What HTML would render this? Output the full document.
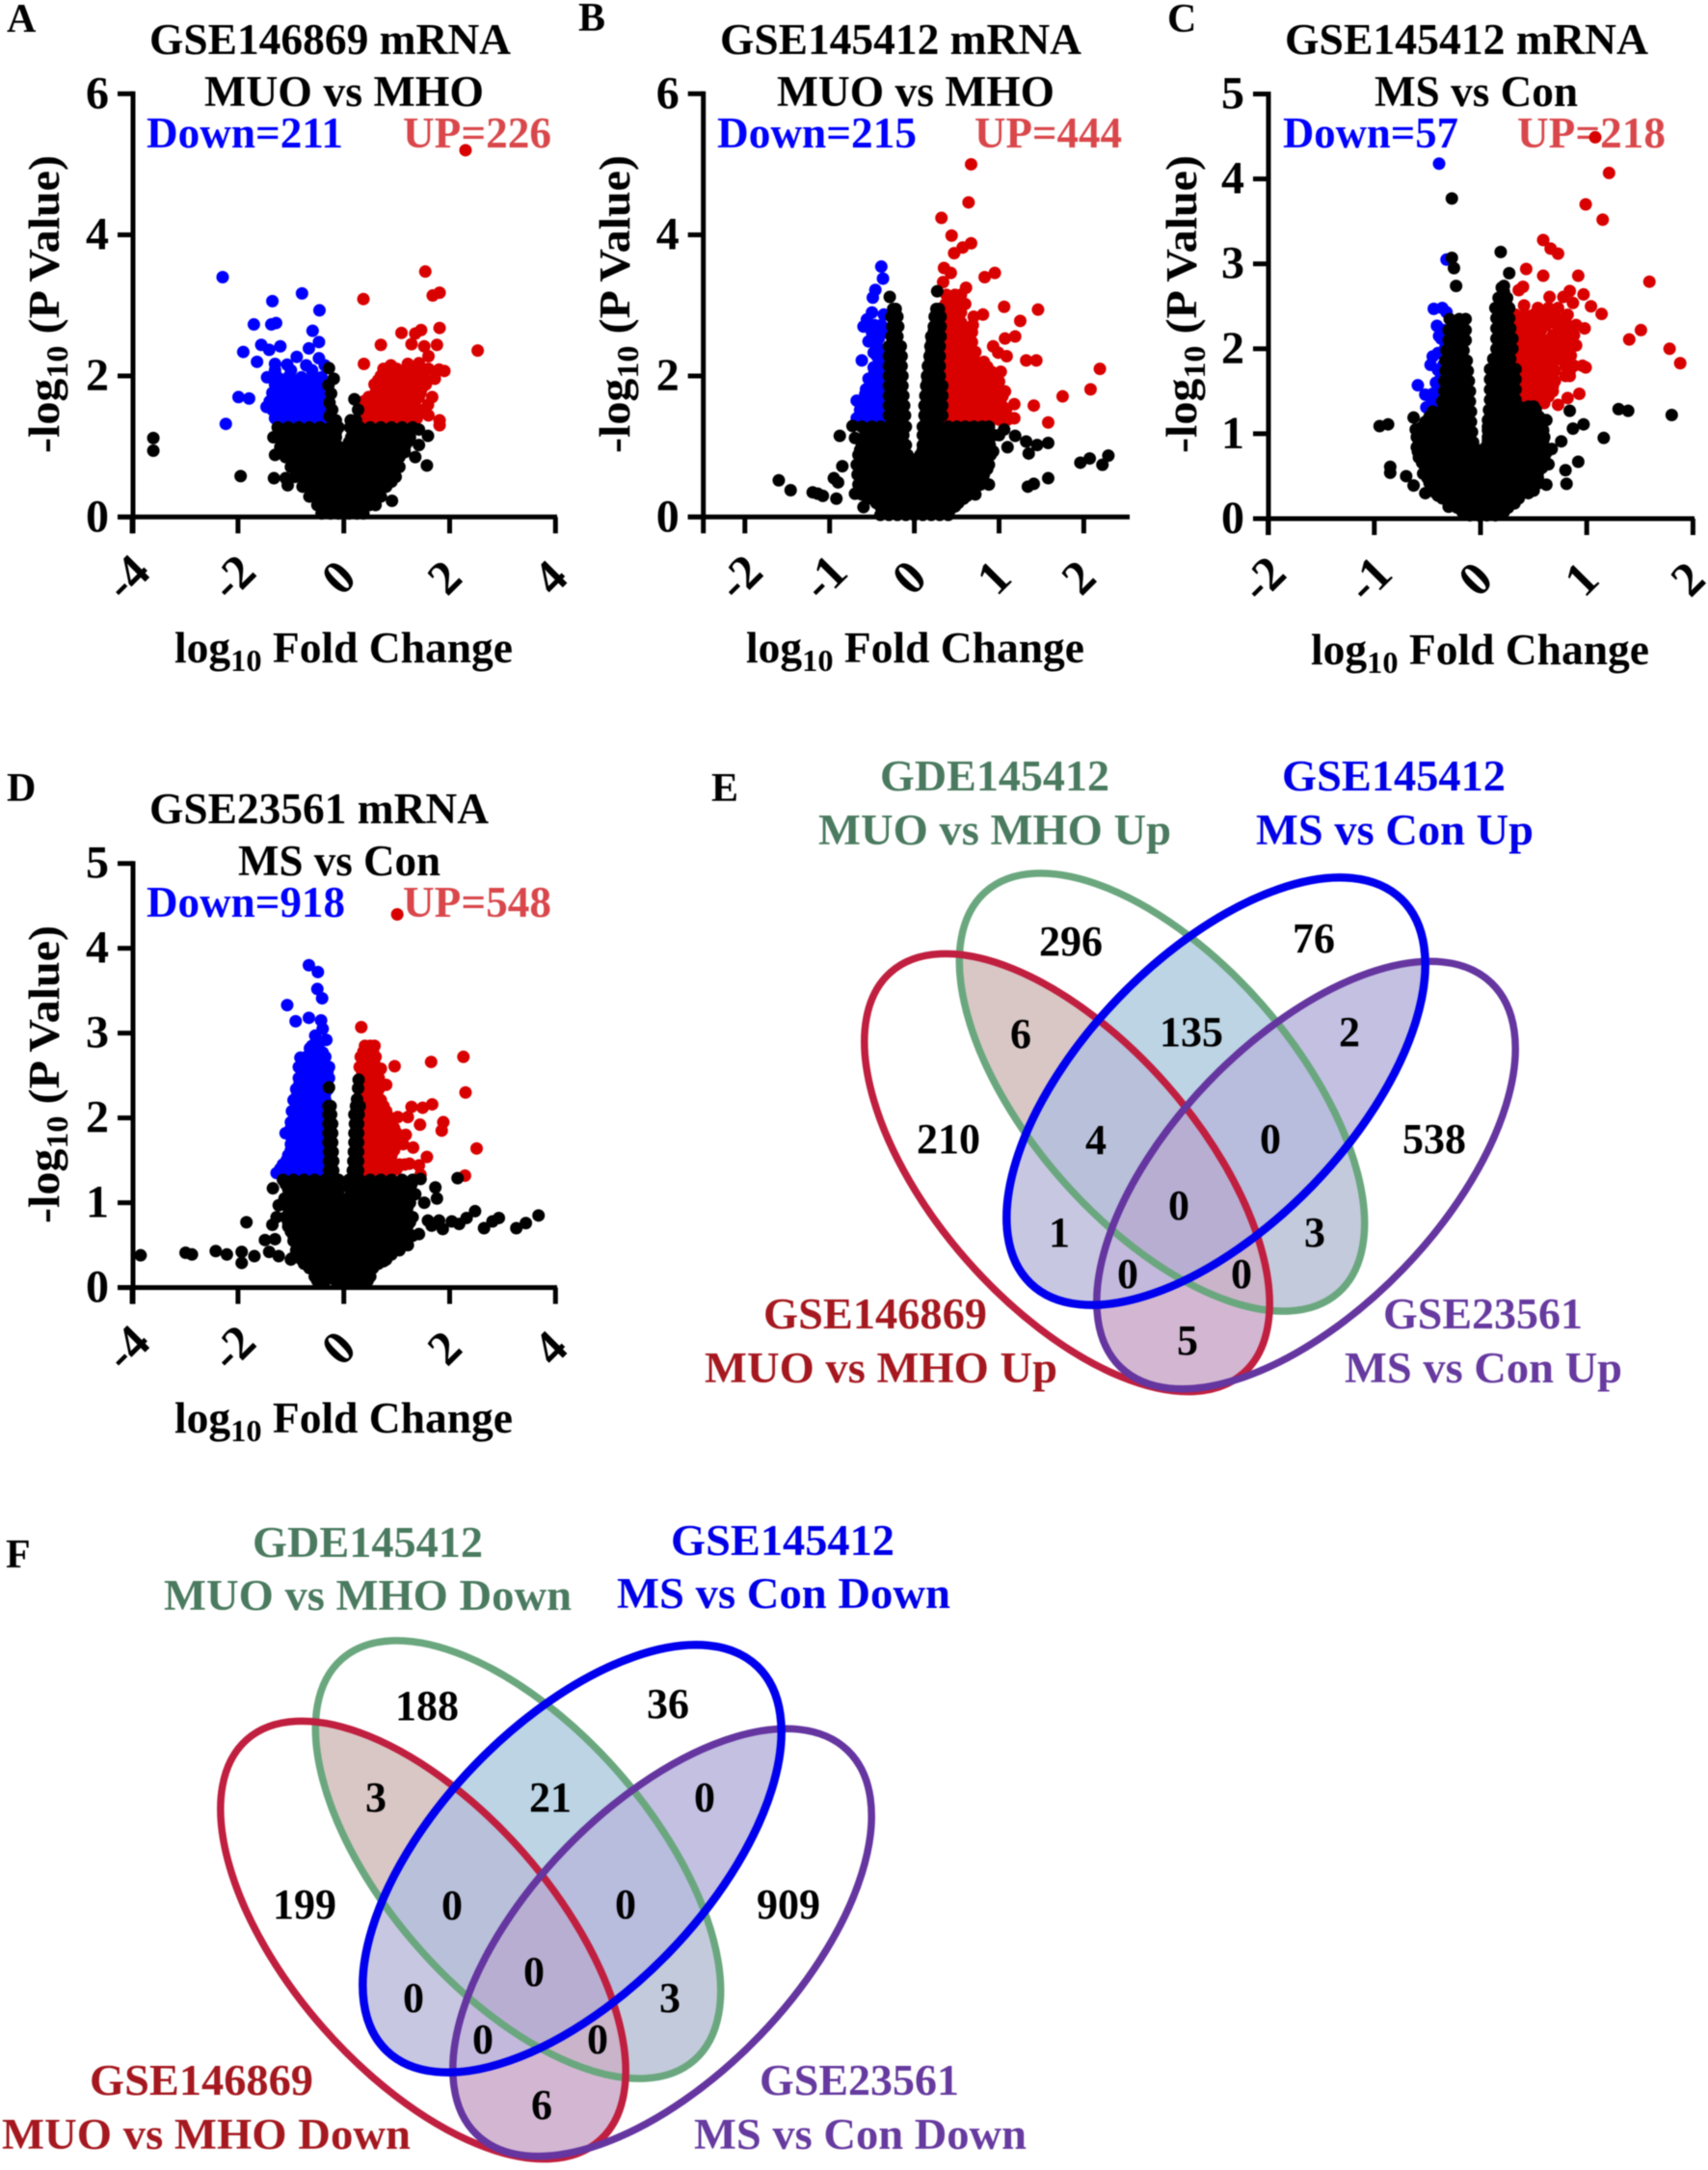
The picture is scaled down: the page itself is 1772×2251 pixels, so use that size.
<!DOCTYPE html>
<html lang="en">
<head>
<meta charset="utf-8">
<title>Volcano plots and Venn diagrams</title>
<style>
html,body{margin:0;padding:0;background:#fff;}
svg{display:block;filter:blur(0.5px);}
text{font-family:"Liberation Serif",serif;font-weight:bold;fill:#000;}
.big{font-size:45px;}
.count{font-size:44px;text-anchor:middle;}
.letter{font-size:42px;}
.down{fill:#0000ff;}
.up{fill:#d9474b;}
.vg{fill:#4a7a5f;font-size:45px;}
.vb{fill:#0000e8;font-size:45px;}
.vr{fill:#a5181f;font-size:45px;}
.vp{fill:#663a9f;font-size:45px;}
</style>
</head>
<body>
<svg id="figure" xmlns="http://www.w3.org/2000/svg" width="1772" height="2251" viewBox="0 0 1772 2251">
<rect x="0" y="0" width="1772" height="2251" fill="#fff"/>

<text class="letter" x="7" y="33">A</text>
<text class="letter" x="600" y="32">B</text>
<text class="letter" x="1211" y="33">C</text>
<text class="letter" x="7" y="831">D</text>
<text class="letter" x="738" y="831">E</text>
<text class="letter" x="6" y="1626">F</text>

<g>
<text class="big" x="155" y="56" textLength="375" lengthAdjust="spacingAndGlyphs">GSE146869 mRNA</text>
<text class="big" x="212" y="110" textLength="290" lengthAdjust="spacingAndGlyphs">MUO vs MHO</text>
<text class="big down" x="152" y="153" textLength="204" lengthAdjust="spacingAndGlyphs">Down=211</text>
<text class="big up" x="418" y="153" textLength="154" lengthAdjust="spacingAndGlyphs">UP=226</text>
<text class="big" transform="translate(61,470) rotate(-90)" textLength="309" lengthAdjust="spacingAndGlyphs">-log<tspan font-size="32" dy="9">10</tspan><tspan dy="-9"> (P Value)</tspan></text>
<text class="big" x="181" y="687" textLength="351" lengthAdjust="spacingAndGlyphs">log<tspan font-size="32" dy="9">10</tspan><tspan dy="-9"> Fold Change</tspan></text>
</g>

<g>
<text class="big" x="747" y="56" textLength="375" lengthAdjust="spacingAndGlyphs">GSE145412 mRNA</text>
<text class="big" x="806" y="110" textLength="288" lengthAdjust="spacingAndGlyphs">MUO vs MHO</text>
<text class="big down" x="744" y="153" textLength="207" lengthAdjust="spacingAndGlyphs">Down=215</text>
<text class="big up" x="1011" y="153" textLength="153" lengthAdjust="spacingAndGlyphs">UP=444</text>
<text class="big" transform="translate(653,470) rotate(-90)" textLength="309" lengthAdjust="spacingAndGlyphs">-log<tspan font-size="32" dy="9">10</tspan><tspan dy="-9"> (P Value)</tspan></text>
<text class="big" x="774" y="687" textLength="351" lengthAdjust="spacingAndGlyphs">log<tspan font-size="32" dy="9">10</tspan><tspan dy="-9"> Fold Change</tspan></text>
</g>

<g>
<text class="big" x="1333" y="56" textLength="377" lengthAdjust="spacingAndGlyphs">GSE145412 mRNA</text>
<text class="big" x="1426" y="110" textLength="211" lengthAdjust="spacingAndGlyphs">MS vs Con</text>
<text class="big down" x="1331" y="153" textLength="182" lengthAdjust="spacingAndGlyphs">Down=57</text>
<text class="big up" x="1574" y="153" textLength="154" lengthAdjust="spacingAndGlyphs">UP=218</text>
<text class="big" transform="translate(1241,470) rotate(-90)" textLength="309" lengthAdjust="spacingAndGlyphs">-log<tspan font-size="32" dy="9">10</tspan><tspan dy="-9"> (P Value)</tspan></text>
<text class="big" x="1360" y="689" textLength="351" lengthAdjust="spacingAndGlyphs">log<tspan font-size="32" dy="9">10</tspan><tspan dy="-9"> Fold Change</tspan></text>
</g>

<g>
<text class="big" x="155" y="854" textLength="352" lengthAdjust="spacingAndGlyphs">GSE23561 mRNA</text>
<text class="big" x="247" y="908" textLength="210" lengthAdjust="spacingAndGlyphs">MS vs Con</text>
<text class="big down" x="152" y="951" textLength="206" lengthAdjust="spacingAndGlyphs">Down=918</text>
<text class="big up" x="418" y="951" textLength="154" lengthAdjust="spacingAndGlyphs">UP=548</text>
<text class="big" transform="translate(61,1269) rotate(-90)" textLength="309" lengthAdjust="spacingAndGlyphs">-log<tspan font-size="32" dy="9">10</tspan><tspan dy="-9"> (P Value)</tspan></text>
<text class="big" x="181" y="1486" textLength="351" lengthAdjust="spacingAndGlyphs">log<tspan font-size="32" dy="9">10</tspan><tspan dy="-9"> Fold Change</tspan></text>
</g>

<g id="venn-e"></g>
<g id="venn-f"></g>

<g>
<text class="vg" x="913" y="820" textLength="238" lengthAdjust="spacingAndGlyphs">GDE145412</text>
<text class="vg" x="849" y="876" textLength="366" lengthAdjust="spacingAndGlyphs">MUO vs MHO Up</text>
<text class="vb" x="1330" y="820" textLength="232" lengthAdjust="spacingAndGlyphs">GSE145412</text>
<text class="vb" x="1303" y="876" textLength="288" lengthAdjust="spacingAndGlyphs">MS vs Con Up</text>
<text class="vr" x="792" y="1378" textLength="232" lengthAdjust="spacingAndGlyphs">GSE146869</text>
<text class="vr" x="731" y="1434" textLength="366" lengthAdjust="spacingAndGlyphs">MUO vs MHO Up</text>
<text class="vp" x="1435" y="1378" textLength="207" lengthAdjust="spacingAndGlyphs">GSE23561</text>
<text class="vp" x="1395" y="1434" textLength="288" lengthAdjust="spacingAndGlyphs">MS vs Con Up</text>
</g>
<g>
<text class="count" x="1111" y="991">296</text>
<text class="count" x="1363" y="988">76</text>
<text class="count" x="1059" y="1087">6</text>
<text class="count" x="1236" y="1085">135</text>
<text class="count" x="1400" y="1085">2</text>
<text class="count" x="984" y="1196">210</text>
<text class="count" x="1137" y="1197">4</text>
<text class="count" x="1318" y="1196">0</text>
<text class="count" x="1488" y="1196">538</text>
<text class="count" x="1223" y="1265">0</text>
<text class="count" x="1099" y="1293">1</text>
<text class="count" x="1364" y="1293">3</text>
<text class="count" x="1170" y="1336">0</text>
<text class="count" x="1288" y="1336">0</text>
<text class="count" x="1232" y="1405">5</text>
</g>

<g>
<text class="vg" x="262" y="1615" textLength="239" lengthAdjust="spacingAndGlyphs">GDE145412</text>
<text class="vg" x="170" y="1670" textLength="423" lengthAdjust="spacingAndGlyphs">MUO vs MHO Down</text>
<text class="vb" x="696" y="1613" textLength="232" lengthAdjust="spacingAndGlyphs">GSE145412</text>
<text class="vb" x="640" y="1668" textLength="346" lengthAdjust="spacingAndGlyphs">MS vs Con Down</text>
<text class="vr" x="93" y="2173" textLength="232" lengthAdjust="spacingAndGlyphs">GSE146869</text>
<text class="vr" x="2" y="2229" textLength="424" lengthAdjust="spacingAndGlyphs">MUO vs MHO Down</text>
<text class="vp" x="788" y="2173" textLength="207" lengthAdjust="spacingAndGlyphs">GSE23561</text>
<text class="vp" x="720" y="2229" textLength="345" lengthAdjust="spacingAndGlyphs">MS vs Con Down</text>
</g>
<g>
<text class="count" x="443" y="1784">188</text>
<text class="count" x="693" y="1782">36</text>
<text class="count" x="390" y="1879">3</text>
<text class="count" x="571" y="1879">21</text>
<text class="count" x="731" y="1879">0</text>
<text class="count" x="316" y="1990">199</text>
<text class="count" x="469" y="1991">0</text>
<text class="count" x="649" y="1990">0</text>
<text class="count" x="818" y="1990">909</text>
<text class="count" x="554" y="2060">0</text>
<text class="count" x="429" y="2087">0</text>
<text class="count" x="695" y="2087">3</text>
<text class="count" x="501" y="2130">0</text>
<text class="count" x="620" y="2130">0</text>
<text class="count" x="562" y="2198">6</text>
</g>
</svg>

<script>
// Each row is [-log10 P, log10 FC, log10 FC, ...].
const xTicksWide = [-4, -2, 0, 2, 4];
const xTicksB = [-2, -1, 0, 1, 2];
const yTicksSix = [0, 2, 4, 6];
const yTicksFive = [0, 1, 2, 3, 4, 5];

const aBlue = [[3.4,-2.29],[3.17,-.79],[3.06,-1.35],[2.93,-.46],[2.73,-1.7,-1.37],[2.75,-1.28],[2.64,-.59],[2.48,-.47],[2.44,-1.56],[2.37,-1.41],[2.42,-1.2],[2.39,-.66],[2.34,-1.9],[2.2,-1.64],[2.27,-.89],[2.25,-.47],[2.17,-1.3],[2.16,-1.07],[2.15,-.71,-.36],[1.7,-1.99],[1.68,-1.79],[1.32,-2.23],[1.56,-1.46],
[2.08,-1.3,-1.0,-.6],[1.98,-1.45,-1.25,-1.05,-.8,-.6,-.42],[1.88,-1.3,-1.1,-.9,-.7,-.5],[1.76,-1.35,-1.15,-.95,-.75,-.55,-.4],[1.64,-1.4,-1.2,-1,-.8,-.6,-.42],[1.52,-1.35,-1.15,-.95,-.75,-.55,-.4],[1.4,-1.3,-1.1,-.9,-.7,-.5,-.38],
[1.46,-1.22,-1,-.8,-.6,-.42],[1.58,-1.25,-1.05,-.85,-.65,-.45],[1.7,-1.25,-1.05,-.85,-.65,-.45],[1.82,-1.22,-1,-.8,-.6,-.42],[1.94,-1.2,-.95,-.7,-.5]];
const aRed = [[5.2,2.3],[3.48,1.54],[3.18,1.81],[3.14,1.68],[3.09,.37],[2.68,1.81],[2.65,1.46],[2.6,1.35],[2.61,1.09],[2.44,.7,1.76],[2.45,1.28],[2.42,1.52],[2.36,2.53],[2.28,1.6],[2.17,.38,1.21],[2.15,.89],[2.18,1.42],[2.09,1.8],[2.07,1.9],[1.96,1.72],[1.7,1.67],[1.59,1.59],[1.44,1.6],[1.37,1.81],[1.3,1.81],
[2.1,.75,.85,1,1.2,1.4,1.6],[2,.7,.95,1.1,1.3,1.5],[1.88,.58,.78,.98,1.18,1.38,1.55],[1.76,.6,.8,1,1.2,1.45],[1.64,.38,.55,.75,.95,1.15,1.35],[1.52,.42,.62,.82,1.02,1.22,1.42],[1.4,.4,.6,.8,1,1.2,1.38],
[1.46,.5,.7,.9,1.1,1.3],[1.58,.52,.72,.92,1.12,1.32],[1.7,.47,.65,.85,1.05,1.25,1.42],[1.82,.7,.9,1.1,1.3,1.47],[1.94,.65,.85,1.05,1.2,1.42],[2.05,.82,1.05,1.25,1.45]];
const aBlack = [[1.12,-3.6],[.94,-3.6],[.58,-1.95],[.88,-1.3],[.55,-1.32,-1.1],[.45,-1.06],[.23,.91],[.73,1.57],[.85,1.35],[1.24,1.42],[1.15,1.59],[1.02,1.42],
[2.11,-.28],[1.96,-.19],[1.87,-.29],[1.75,-.24],[1.62,-.27],[1.52,-.22,.27],[1.43,-.27],[1.37,-.15,.13,.23],[1.67,.2],
[1.27,-1.25,-1.05,-.85,-.65,-.45,-.25,-.1,.12,.3,.5,.7,.9,1.1,1.3],
[1.13,-1.33,-1.15,-.95,-.75,-.55,-.35,-.15,.14,.25,.4,.6,.8,1,1.2,1.25],
[.99,-1.2,-1.05,-.85,-.65,-.45,-.25,-.08,.06,.2,.35,.55,.75,.95,1.15],
[.85,-1.1,-.95,-.75,-.55,-.35,-.15,.05,.25,.45,.65,.85,1.05],
[.71,-1.0,-.85,-.65,-.45,-.25,-.05,.15,.35,.55,.75,.95,1.05],
[.57,-.92,-.75,-.55,-.35,-.15,.05,.25,.45,.65,.85,.98],
[.43,-.78,-.6,-.4,-.2,0,.2,.4,.6,.8],
[.29,-.65,-.47,-.27,-.07,.13,.33,.53,.7],
[.17,-.5,-.32,-.12,.08,.28,.48,.6],
[.08,-.35,-.18,0,.18,.35],
[1.2,-1.2,-.95,-.75,-.55,-.35,-.15,.2,.4,.6,.8,1,1.2],
[1.06,-1.15,-.95,-.75,-.55,-.35,-.18,.1,.3,.5,.7,.9,1.1,1.2],
[.92,-1.05,-.85,-.65,-.45,-.25,-.05,.15,.35,.55,.75,.95,1.15],
[.78,-.95,-.75,-.55,-.35,-.15,.05,.25,.45,.65,.85,1.0],
[.64,-.85,-.65,-.45,-.25,-.05,.15,.35,.55,.75,.95],
[.5,-.7,-.5,-.3,-.1,.1,.3,.5,.7,.9],
[.36,-.55,-.35,-.15,.05,.25,.45,.65],
[.23,-.4,-.2,0,.2,.4,.55],
[.05,-.42,-.25,-.1,.1,.25,.37]];

const bBlue = [[3.55,-.39],[3.38,-.37],[3.22,-.46],[3.11,-.49],[2.9,-.5],[2.87,-.36],[2.8,-.56],[2.7,-.6],[2.72,-.47,-.39],[2.56,-.49],[2.49,-.54],[2.53,-.42],[2.47,-.47],[2.37,-.38],[2.22,-.62],[2.28,-.44],[2.18,-.38],[1.96,-.54],[2.06,-.47],[2,-.38],[1.87,-.47],[1.81,-.57],[1.84,-.38],[1.65,-.68,-.6],[1.68,-.51,-.4],[1.52,-.64,-.55,-.47,-.38],[1.4,-.68,-.6,-.51,-.42,-.37],
[1.46,-.64,-.55,-.46,-.38],[1.58,-.6,-.5,-.42,-.36],[1.74,-.58,-.5,-.42,-.36],[1.9,-.52,-.44,-.36],[2.12,-.48,-.4,-.34],[2.33,-.48,-.4,-.34],[2.62,-.5,-.42,-.36]];
const bRed = [[5,.67],[4.46,.64],[4.24,.32],[3.99,.44],[3.88,.67],[3.82,.57],[3.74,.47],[3.53,.35],[3.46,.43,.95],[3.4,.83],[3.33,.34],[3.25,.61],[2.98,1.06],[2.94,1.46],[2.87,.81],[2.78,1.25],[2.84,.7],[2.72,.69],[2.56,1.19],[2.53,1.07],[2.42,.93],[2.33,.99],[2.28,1.09],[2.22,1.32,1.44],[2.1,2.19],[1.81,2.08],[1.71,1.75],[1.58,1.41],[1.6,1.18],[1.34,1.58],[1.4,1.18],
[3.15,.38,.48,.55],[3.02,.37,.47,.57,.6],[2.9,.37,.46,.55],[2.76,.37,.46,.55],[2.62,.38,.47,.56,.68],[2.48,.37,.46,.55,.68],[2.34,.37,.46,.55,.64,.72],[2.2,.37,.46,.55,.64,.73,.82],[2.06,.37,.46,.55,.64,.73,.82,.91,1.02],[1.92,.37,.46,.55,.64,.73,.82,.91,1],[1.78,.37,.46,.55,.64,.73,.82,.91,1,1.07],[1.64,.37,.46,.55,.64,.73,.82,.91,1],[1.5,.37,.46,.55,.64,.73,.82,.91,1,1.08],[1.38,.37,.46,.55,.64,.73,.82,.91,1,1.1],
[3.08,.42,.52],[2.96,.42,.52],[2.83,.42,.52],[2.69,.42,.52,.6],[2.55,.42,.52,.62],[2.41,.42,.52,.62],[2.27,.42,.5,.6,.68],[2.13,.42,.5,.6,.68,.78,.86],[1.99,.42,.5,.6,.68,.78,.86,.96],[1.85,.42,.5,.6,.68,.78,.86,.96],[1.71,.42,.5,.6,.68,.78,.86,.96,1.04],[1.57,.42,.5,.6,.68,.78,.86,.96,1.04],[1.44,.42,.5,.6,.68,.78,.86,.96,1.05]];
const bBlack = [[.52,-1.6],[.38,-1.46],[.35,-1.2],[.33,-1.14],[.3,-1.08],[.55,-.95],[.49,-.9],[.26,-.92],[.72,-.85],[1.15,-.88],[1.29,-.73],[1.12,-.7],[.14,-.6],[.33,-.7],
[1.24,1.06],[1.15,1.19],[1.07,1.32],[1.02,1.45],[1.05,1.58],[.9,1.35],[.99,1.1],[.93,.93],[.68,.86],[.46,.88],[.43,1.34],[.47,1.41],[.55,1.58],[.77,1.96],[.83,2.07],[.74,2.22],[.87,2.29],[.3,.62],[.36,.71],[3.2,.27],
[3.12,-.29],[2.95,-.25,-.22,.26,.29],[2.84,-.27,-.2,.24,.29,.31],[2.7,-.26,-.21,-.19,.23,.27,.31],[2.56,-.27,-.2,.2,.26,.31],[2.42,-.3,-.22,-.16,.19,.25,.3],[2.28,-.3,-.22,-.15,.18,.24,.3],[2.14,-.3,-.2,-.15,.16,.22,.3],[2,-.3,-.2,-.14,.15,.22,.3],[1.86,-.3,-.2,-.14,.14,.2,.28,.33],[1.72,-.3,-.2,-.13,.13,.2,.28,.33],[1.58,-.3,-.2,-.12,.12,.2,.28,.33],[1.44,-.3,-.2,-.11,.12,.2,.28,.33],
[1.37,-.25,-.15,.14,.24],[1.51,-.25,-.15,.14,.23],[1.65,-.25,-.16,.15,.24],[1.79,-.25,-.17,.16,.24],[1.93,-.25,-.17,.16,.24],[2.07,-.25,-.18,.18,.25],[2.21,-.25,-.18,.19,.26],[2.35,-.25,.2,.27],[2.49,-.24,.21,.27],[2.63,-.24,.23,.27],
[1.28,-.62,-.5,-.4,-.3,-.2,-.1,.1,.2,.3,.4,.5,.6,.7,.8,.88],
[1.16,-.58,-.46,-.35,-.24,-.13,.1,.17,.28,.39,.5,.61,.72,.83,.94,1],
[1.02,-.62,-.5,-.4,-.3,-.2,-.1,.1,.23,.34,.45,.56,.67,.78,.89],
[.88,-.66,-.55,-.45,-.35,-.25,-.15,-.08,.07,.17,.28,.39,.5,.61,.72,.83,.9],
[.74,-.68,-.57,-.47,-.37,-.27,-.17,-.07,.03,.14,.25,.36,.47,.58,.69,.8,.88],
[.6,-.67,-.56,-.46,-.36,-.26,-.16,-.06,.05,.16,.27,.38,.49,.6,.71,.82],
[.46,-.66,-.55,-.45,-.35,-.25,-.15,-.05,.03,.14,.25,.36,.47,.58,.69,.78],
[.32,-.62,-.5,-.4,-.3,-.2,-.1,0,.1,.2,.3,.4,.5,.6,.72],
[.2,-.45,-.35,-.25,-.15,-.05,.05,.15,.25,.35,.45,.52],
[.1,-.38,-.28,-.18,-.08,.02,.12,.22,.32,.42],
[.03,-.4,-.3,-.2,-.1,0,.1,.2,.3,.4],
[1.23,-.55,-.45,-.35,-.25,-.15,.14,.25,.35,.45,.55,.65,.75,.85],
[1.09,-.6,-.45,-.35,-.25,-.15,.14,.28,.39,.5,.61,.72,.83],
[.95,-.64,-.5,-.4,-.3,-.2,-.12,.1,.22,.34,.45,.56,.67,.78,.88],
[.81,-.62,-.5,-.4,-.3,-.2,-.1,0,.1,.22,.33,.44,.55,.66,.77,.85],
[.67,-.62,-.5,-.4,-.3,-.2,-.1,0,.1,.22,.33,.44,.55,.66,.77],
[.53,-.6,-.5,-.4,-.3,-.2,-.1,0,.1,.2,.32,.44,.55,.66,.74],
[.39,-.58,-.5,-.4,-.3,-.2,-.1,0,.1,.2,.3,.4,.5,.6,.7],
[.26,-.55,-.4,-.3,-.2,-.1,0,.1,.2,.3,.4,.5,.58],
[.15,-.4,-.3,-.2,-.1,0,.1,.2,.3,.4,.48]];

const cBlue = [[4.18,-.39],[3.05,-.32],[2.47,-.44],[2.48,-.36],[2.43,-.32],[2.27,-.41],[2.22,-.35],[2.12,-.37],[2.02,-.33],[1.91,-.45],[1.81,-.47,-.35],[1.68,-.37],[1.57,-.59,-.39],[1.46,-.52],[1.47,-.45,-.39],[1.31,-.51],[1.34,-.44],[1.39,-.39],
[2.15,-.39,-.33],[1.95,-.4,-.34],[1.75,-.4,-.34],[1.6,-.42,-.36],[1.4,-.46,-.38,-.34],[1.3,-.44,-.38,-.34]];
const cRed = [[4.49,1.08],[4.07,1.21],[3.7,.99],[3.52,1.15],[3.28,.59],[3.18,.66],[3.12,.73],[2.94,.43],[2.86,.59,.92],[2.79,1.59],[2.73,.4],[2.69,.36],[2.68,.84],[2.64,.97],[2.61,.65,.78],[2.54,.87],[2.51,.41],[2.48,.54,.64,.73],[2.5,1.04],[2.41,1.14],[2.22,1.51],[2.11,1.4],[2,1.78],[1.83,1.88],[2.24,.98],[1.78,.99],[1.47,.93],[1.34,.73],[1.42,.82],
[2.4,.33,.42,.5,.6,.7,.82],[2.28,.33,.42,.52,.62,.72,.82,.9],[2.16,.35,.44,.53,.68,.78,.88],[2.04,.36,.45,.54,.62,.74,.84,.9],[1.92,.36,.45,.55,.65,.75,.85],[1.8,.36,.46,.56,.66,.8,.88,.96],[1.68,.36,.46,.56,.66,.8,.84],[1.56,.36,.46,.56,.66,.68],[1.44,.36,.46,.56,.64],[1.36,.36,.45,.55,.6],
[2.34,.38,.47,.56,.66,.76],[2.22,.38,.47,.57,.75,.85],[2.1,.4,.49,.6,.72,.82],[1.98,.4,.5,.58,.68,.78],[1.86,.4,.5,.6,.7,.8],[1.74,.4,.5,.6,.7,.84],[1.62,.4,.5,.6,.7],[1.5,.4,.5,.6,.68],[1.4,.4,.5,.6]];
const cBlack = [[3.77,-.27],[3.07,-.27],[2.95,-.25],[2.74,-.23,.22],[3.14,.19],[2.89,.27],[2.67,.22],[1.09,-.95],[1.11,-.87],[.61,-.85],[.54,-.85],[.5,-.7],[.39,-.63],[.53,-.54],[.3,-.52],[1.19,-.63],[1.05,-.61],[.79,-.59],[.14,-.3],[.27,-.4],
[1.29,1.3],[1.27,1.39,.84],[1.22,1.8],[.95,1.16],[1.11,.97],[1.06,.87],[.67,.92],[.41,.81],[.57,.8],[.91,.76],[.82,.67],[1.16,.62],[.64,.64],[.33,.5],[.4,.62],
[2.35,-.29,-.2,-.14],[2.22,-.3,-.22,-.14],[2.1,-.3,-.22,-.14],[1.98,-.32,-.24,-.16],[1.86,-.33,-.25,-.17,-.13],[1.74,-.33,-.25,-.17,-.12],[1.62,-.34,-.26,-.18,-.11],[1.5,-.34,-.26,-.18,-.1],[1.38,-.36,-.28,-.2,-.1],[1.26,-.45,-.37,-.29,-.21,-.13,-.09],[1.14,-.52,-.44,-.36,-.28,-.2,-.12,-.09],[1.02,-.58,-.5,-.42,-.34,-.26,-.18,-.1,-.08],[.9,-.58,-.5,-.42,-.34,-.26,-.18,-.1,-.07],
[2.72,.2],[2.6,.17,.25],[2.48,.14,.22,.27],[2.36,.15,.21,.27],[2.24,.15,.21,.28],[2.12,.15,.23,.3],[2,.15,.23,.3],[1.88,.12,.2,.28],[1.76,.09,.13,.21,.29,.33],[1.64,.09,.13,.21,.29,.33],[1.52,.09,.13,.21,.29,.33],[1.4,.09,.13,.21,.29,.33],[1.28,.08,.12,.2,.28,.36,.44,.52],[1.16,.07,.11,.19,.27,.35,.43,.51,.58],[1.04,.07,.11,.19,.27,.35,.43,.51,.59],[.92,.07,.11,.19,.27,.35,.43,.51,.59],
[.78,-.56,-.48,-.4,-.32,-.24,-.16,-.08,-.01,.07,.15,.23,.31,.39,.47,.55,.62],
[.66,-.55,-.47,-.39,-.31,-.23,-.15,-.07,.01,.09,.17,.25,.33,.41,.49,.57,.6],
[.54,-.5,-.42,-.34,-.26,-.18,-.1,-.02,.06,.14,.22,.3,.38,.46,.54],
[.42,-.48,-.4,-.32,-.24,-.16,-.08,0,.08,.16,.24,.32,.4,.48,.55],
[.3,-.42,-.34,-.26,-.18,-.1,-.02,.06,.14,.22,.3,.38,.45],
[.18,-.3,-.22,-.14,-.06,.02,.1,.18,.26,.32],
[.08,-.17,-.09,-.01,.07,.15,.22],
[1.32,-.3,-.2,-.12,.12,.2,.28,.36,.45,.5],
[1.2,-.48,-.4,-.32,-.24,-.16,.09,.16,.24,.32,.4,.48,.55],
[1.08,-.55,-.47,-.38,-.3,-.22,-.14,.07,.15,.23,.31,.39,.47,.55],
[.96,-.6,-.52,-.44,-.36,-.28,-.2,-.14,.07,.15,.23,.31,.39,.47,.55,.6],
[.84,-.6,-.52,-.44,-.36,-.28,-.2,-.12,-.06,.05,.15,.23,.31,.39,.47,.55,.6],
[.72,-.58,-.5,-.42,-.34,-.26,-.18,-.1,-.02,.06,.14,.22,.3,.38,.46,.54,.6],
[.6,-.52,-.44,-.36,-.28,-.2,-.12,-.04,.04,.12,.2,.28,.36,.44,.52,.58],
[.48,-.5,-.42,-.34,-.26,-.18,-.1,-.02,.06,.14,.22,.3,.38,.46,.54],
[.36,-.44,-.36,-.28,-.2,-.12,-.04,.04,.12,.2,.28,.36,.44,.5],
[.24,-.36,-.28,-.2,-.12,-.04,.04,.12,.2,.28,.36],
[.13,-.22,-.14,-.06,.02,.1,.18,.26],
[.04,-.1,-.02,.06,.14],
[1.44,-.3,-.22,-.14,.13,.2,.27],[1.56,-.3,-.22,-.14,.13,.2,.27],[1.68,-.3,-.22,-.15,.14,.2,.27],[1.8,-.3,-.22,-.15,.14,.2,.27],[1.92,-.28,-.2,.17,.25],[2.04,-.28,-.2,.19,.26],[2.16,-.27,-.19,.19,.25],[2.28,-.26,-.18,.19,.25],[2.42,.18,.24],[2.54,.2,.24]];

const dBlue = [[3.8,-.66],[3.72,-.49],[3.52,-.5],[3.41,-.41],[3.33,-1.07],[3.18,-.66],[3.14,-.91],[3.15,-.43],[3.05,-.4],[2.97,-.54],[2.92,-.33],[2.82,-.64],[2.77,-.4],[2.71,-.82],
[2.6,-.85,-.72,-.6,-.48,-.35,-.28],[2.47,-.85,-.72,-.6,-.48,-.35,-.28],[2.34,-.9,-.78,-.65,-.52,-.4,-.3],[2.21,-.95,-.82,-.7,-.57,-.45,-.35],[2.08,-.98,-.85,-.72,-.6,-.45,-.37],[1.95,-1,-.88,-.75,-.62,-.5,-.38],[1.82,-1.1,-.95,-.82,-.7,-.57,-.45,-.38],[1.69,-1,-.88,-.75,-.62,-.5,-.38],[1.56,-1.05,-.92,-.8,-.67,-.54,-.4],[1.45,-1.15,-1,-.87,-.75,-.6,-.48,-.38],[1.35,-1.27,-1.12,-.98,-.85,-.72,-.58,-.45,-.38],
[2.54,-.78,-.66,-.54,-.42,-.31],[2.4,-.84,-.72,-.58,-.46,-.34],[2.27,-.88,-.75,-.6,-.48,-.36],[2.14,-.9,-.78,-.66,-.52,-.4],[2.01,-.93,-.82,-.68,-.56,-.42],[1.88,-1,-.88,-.76,-.62,-.5,-.4],[1.75,-.98,-.85,-.72,-.58,-.44],[1.62,-1,-.88,-.74,-.6,-.46],[1.5,-1.08,-.94,-.8,-.66,-.52,-.4],[1.4,-1.2,-1.05,-.92,-.78,-.64,-.5],[2.72,-.7,-.55,-.42,-.35],[2.85,-.6,-.48]];
const dRed = [[4.4,1.01],[3.07,.33],[2.66,1.65],[2.72,2.26],[2.3,2.3],[2.61,.96],[2.58,.7],[2.39,.8],[2.13,1.28],[2.12,1.49],[2.16,1.67],[1.95,1.88],[1.85,1.85],[1.92,1.44],[1.64,2.51],[1.32,2.29],[1.54,1.57],[2.01,1.02,1.21],[1.8,1.17],[1.65,1.31],[1.44,1.42],[1.33,1.45],[1.46,1.24],
[2.85,.4,.5,.58],[2.72,.32,.42,.52,.6],[2.6,.3,.4,.5,.6],[2.47,.36,.46,.56,.66],[2.34,.36,.46,.56,.66],[2.21,.4,.5,.6,.7],[2.08,.4,.5,.6,.7,.8],[1.95,.4,.5,.6,.7,.8,.9],[1.82,.4,.5,.6,.7,.8,.9,1],[1.69,.4,.5,.6,.7,.8,.9,1.02,1.12],[1.56,.4,.5,.6,.7,.8,.9],[1.45,.4,.5,.6,.7,.8,.95,1.05,1.15],[1.36,.4,.5,.6,.7,.8,.9],
[2.78,.37,.47,.55],[2.66,.37,.47,.57],[2.53,.35,.45,.55],[2.4,.41,.51,.61],[2.27,.43,.53,.63],[2.14,.45,.55,.65,.75],[2.01,.45,.55,.65,.75,.85],[1.88,.45,.55,.65,.75,.85,.95],[1.75,.45,.55,.65,.75,.85,.95,1.05],[1.62,.45,.55,.65,.75,.85,.95],[1.5,.45,.55,.65,.75,.85],[1.4,.45,.55,.65,.75,.85,1]];
const dBlack = [[.38,-3.84],[.41,-2.99],[.39,-2.87,-2.21],[.43,-2.42],[.29,-1.93],[.42,-1.93,-1.41],[.37,-1.69,-1.23],[.77,-1.84],[.56,-1.49],[.74,-1.35],[1.17,-1.34],[.97,-1.23],[.83,-1.27],[.57,-1.3],[.34,-.99],[.11,-.49],
[1.29,2.15],[1.18,1.73],[1,1.52],[1.05,1.76],[1.28,1.45],[1.1,1.35],[.9,2.48],[.82,2.32,2.93],[.75,2.18],[.78,2.04,2.81],[.69,1.87],[.79,1.8,1.59],[.73,1.66],[.63,1.42],[.7,2.65,3.26],[.76,3.44],[.85,3.68],[.5,1.21],[.31,.75],[.13,.3],
[2.36,-.28],[2.14,-.29,-.25,.23,.3],[2.04,-.29,-.24,.2,.28],[1.93,-.29,-.22,.21,.27],[1.82,-.29,-.22,.2,.27],[1.71,-.29,-.22,.2,.27],[1.6,-.28,-.21,.19,.27],[1.49,-.28,-.2,.18,.27],[1.38,-.28,-.2,.17,.27],[2.22,.25],[2.35,.27],[2.45,.28],
[1.27,-1.15,-.95,-.75,-.55,-.35,-.2,-.1,.1,.3,.5,.7,.9,1.1,1.3],
[1.16,-1.05,-.85,-.65,-.45,-.27,-.1,.12,.2,.4,.6,.8,1,1.2],
[1.05,-1.12,-.95,-.75,-.55,-.35,-.17,-.09,.08,.3,.5,.7,.9,1.1,1.25],
[.94,-1.05,-.85,-.65,-.45,-.25,-.09,.08,.2,.4,.6,.8,1,1.2],
[.83,-1.1,-.95,-.75,-.55,-.35,-.15,-.06,.06,.3,.5,.7,.9,1.1,1.3],
[.72,-1.05,-.85,-.65,-.45,-.25,-.05,.1,.2,.4,.6,.8,1,1.2],
[.61,-.95,-.75,-.55,-.35,-.15,.05,.3,.5,.7,.9,1.1,1.3],
[.5,-.85,-.65,-.45,-.25,-.05,.15,.35,.55,.75,.95,1.15],
[.39,-.9,-.7,-.5,-.3,-.1,.1,.3,.5,.7,.9],
[.28,-.75,-.55,-.35,-.15,.05,.25,.45,.65],
[.18,-.55,-.35,-.15,.05,.25,.42],
[.08,-.5,-.35,-.15,0,.15,.3,.45],
[1.22,-1.1,-.9,-.7,-.5,-.3,-.15,.1,.3,.5,.7,.9,1.1,1.28],
[1.1,-1.0,-.8,-.6,-.4,-.22,-.1,.15,.35,.55,.75,.95,1.15],
[1.0,-1.1,-.9,-.7,-.5,-.3,-.12,.1,.25,.45,.65,.85,1.05,1.25],
[.88,-1.0,-.8,-.6,-.4,-.2,-.1,.1,.35,.55,.75,.95,1.15],
[.77,-1.05,-.9,-.7,-.5,-.3,-.1,.08,.25,.45,.65,.85,1.05,1.25],
[.66,-1.0,-.8,-.6,-.4,-.2,0,.15,.35,.55,.75,.95,1.15],
[.55,-.95,-.75,-.55,-.35,-.15,.05,.25,.45,.65,.85,1.05],
[.44,-.9,-.7,-.5,-.3,-.1,.1,.3,.5,.7,.9,1.05],
[.33,-1,-.8,-.6,-.4,-.2,0,.2,.4,.6,.8],
[.23,-.65,-.45,-.25,-.05,.15,.35,.55],
[.13,-.55,-.4,-.2,0,.2,.38,.5]];

const SVGNS = 'http://www.w3.org/2000/svg';
const figure = document.getElementById('figure');

function make(tag, attrs, parent) {
  const el = document.createElementNS(SVGNS, tag);
  for (const k in attrs) el.setAttribute(k, attrs[k]);
  parent.appendChild(el);
  return el;
}

function drawRows(group, rows, color, name, xScale, yScale) {
  rows.forEach(function (row) {
    row.slice(1).forEach(function (v) {
      const dot = make('circle', {cx: xScale(v), cy: yScale(row[0]), r: 6.5, fill: color}, group);
      
      
    });
  });
}

function drawVolcano(id, s) {
  const xScale = function (v) { return s.xZero + v * s.xUnit; };
  const yScale = function (v) { return s.yZero - v * s.yUnit; };
  const g = make('g', {}, figure);
  
  

  drawRows(g, s.red, '#d90000', id + '-point-up', xScale, yScale);
  drawRows(g, s.blue, '#0000ff', id + '-point-down', xScale, yScale);
  drawRows(g, s.black, '#000000', id + '-point-ns', xScale, yScale);

  const topY = yScale(s.yTicks[s.yTicks.length - 1]);
  const yAxis = make('line', {x1: s.axisX, x2: s.axisX, y1: topY - 2.5, y2: s.yZero + 17, stroke: '#000', 'stroke-width': 5}, g);
  
  
  const xAxis = make('line', {x1: s.axisX - 16, x2: s.axisRight, y1: s.yZero, y2: s.yZero, stroke: '#000', 'stroke-width': 5}, g);
  
  

  s.yTicks.forEach(function (v) {
    const tick = make('line', {x1: s.axisX - 16, x2: s.axisX, y1: yScale(v), y2: yScale(v), stroke: '#000', 'stroke-width': 5}, g);
    
    
    const label = make('text', {x: s.axisX - 25, y: yScale(v) + 15, 'text-anchor': 'end', 'font-size': 48}, g);
    label.textContent = String(v);
    
    
  });
  s.xTicks.forEach(function (v) {
    const px = xScale(v);
    const tick = make('line', {x1: px, x2: px, y1: s.yZero, y2: s.yZero + 17, stroke: '#000', 'stroke-width': 5}, g);
    
    
    const ly = s.yZero + 63;
    const label = make('text', {x: px - 5, y: ly + 16, 'text-anchor': 'middle', 'font-size': 50, transform: 'rotate(-45 ' + (px - 5) + ' ' + ly + ')'}, g);
    label.textContent = String(v);
    
    
  });
}

drawVolcano('panel-a', {xZero: 356.7, xUnit: 54.9, yZero: 536.3, yUnit: 73.17, axisX: 138, axisRight: 578, xTicks: xTicksWide, yTicks: yTicksSix, red: aRed, blue: aBlue, black: aBlack});
drawVolcano('panel-b', {xZero: 948.6, xUnit: 87.9, yZero: 536.3, yUnit: 73.17, axisX: 729.7, axisRight: 1172, xTicks: xTicksB, yTicks: yTicksSix, red: bRed, blue: bBlue, black: bBlack});
drawVolcano('panel-c', {xZero: 1536, xUnit: 110.2, yZero: 538, yUnit: 88.1, axisX: 1316, axisRight: 1758, xTicks: xTicksB, yTicks: yTicksFive, red: cRed, blue: cBlue, black: cBlack});
drawVolcano('panel-d', {xZero: 356.7, xUnit: 54.9, yZero: 1335.6, yUnit: 87.98, axisX: 138, axisRight: 578, xTicks: xTicksWide, yTicks: yTicksFive, red: dRed, blue: dBlue, black: dBlack});

// Venn geometry shared by panels E and F
const vennSets = {
  r: {cx: 1107, cy: 1216.5, rx: 277, ry: 138, rot: 48.7, stroke: '#c01f3f', w: 7.5},
  g: {cx: 1205.5, cy: 1133, rx: 277, ry: 138, rot: 48.7, stroke: '#6aa77e', w: 7.5},
  b: {cx: 1261.5, cy: 1132, rx: 277, ry: 140, rot: -46, stroke: '#0000ee', w: 8.5},
  p: {cx: 1355, cy: 1219, rx: 277, ry: 140, rot: -46, stroke: '#6535a0', w: 7.5}
};
const vennRegions = [
  ['rg', '#d9c7c5'], ['gb', '#bcd4e4'], ['bp', '#c3c0e2'], ['rb', '#c8c7e2'], ['gp', '#c3cadb'], ['rp', '#d3b7d2'],
  ['rgb', '#b9c0da'], ['gbp', '#b8bcdd'], ['rbp', '#c2b9dc'], ['rgp', '#c9b4c9'],
  ['rgbp', '#b8aed2']
];
const vennStrokeOrder = ['g', 'r', 'p', 'b'];

function drawVenn(id, dx, dy) {
  const root = document.getElementById(id);
  root.setAttribute('transform', 'translate(' + dx + ' ' + dy + ')');
  const defs = make('defs', {}, root);
  Object.keys(vennSets).forEach(function (k) {
    const s = vennSets[k];
    const clip = make('clipPath', {id: id + '-clip-' + k}, defs);
    make('ellipse', {cx: s.cx, cy: s.cy, rx: s.rx, ry: s.ry, transform: 'rotate(' + s.rot + ' ' + s.cx + ' ' + s.cy + ')'}, clip);
  });
  vennRegions.forEach(function (region) {
    let parent = root;
    region[0].split('').forEach(function (k) {
      parent = make('g', {'clip-path': 'url(#' + id + '-clip-' + k + ')'}, parent);
    });
    const fill = make('rect', {x: 850, y: 880, width: 760, height: 600, fill: region[1]}, parent);
    
    
  });
  vennStrokeOrder.forEach(function (k) {
    const s = vennSets[k];
    const ring = make('ellipse', {cx: s.cx, cy: s.cy, rx: s.rx, ry: s.ry, fill: 'none', stroke: s.stroke, 'stroke-width': s.w, transform: 'rotate(' + s.rot + ' ' + s.cx + ' ' + s.cy + ')'}, root);
    
    
  });
}

drawVenn('venn-e', 0, 0);
drawVenn('venn-f', -668, 796);
</script>
</body>
</html>
